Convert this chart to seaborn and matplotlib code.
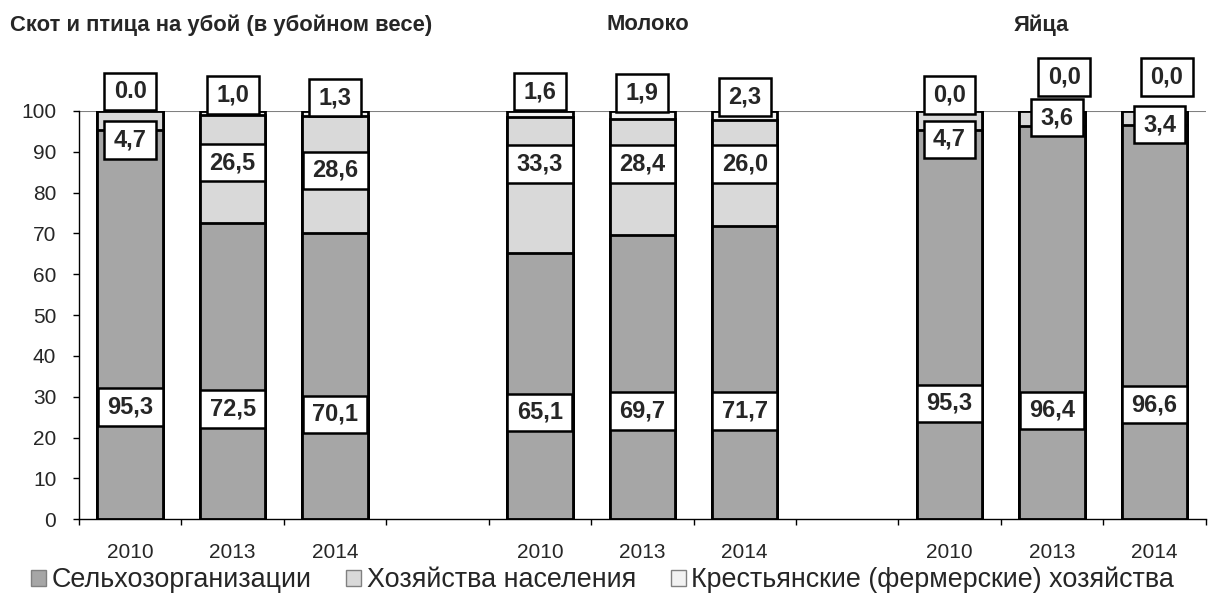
import matplotlib
matplotlib.use("Agg")
import matplotlib.pyplot as plt
from matplotlib.patches import Patch
from matplotlib.path import Path
import seaborn as sns
import pandas as pd
import numpy as np

# data
groups = ["Скот и птица на убой (в убойном весе)", "Молоко", "Яйца"]
years = ["2010", "2013", "2014"]
selkhoz = [95.3, 72.5, 70.1, 65.1, 69.7, 71.7, 95.3, 96.4, 96.6]
naselenie = [4.7, 26.5, 28.6, 33.3, 28.4, 26.0, 4.7, 3.6, 3.4]
fermery = [0.0, 1.0, 1.3, 1.6, 1.9, 2.3, 0.0, 0.0, 0.0]
fermery_text = ["0.0", "1,0", "1,3", "1,6", "1,9", "2,3", "0,0", "0,0", "0,0"]
series_names = ["Сельхозорганизации", "Хозяйства населения",
                "Крестьянские (фермерские) хозяйства"]

# label placement (layout only)
lab_y_low = [27.5, 27.0, 25.7, 26.2, 26.5, 26.5, 28.4, 26.7, 28.0]
lab_y_mid = [92.9, 87.3, 85.5, 87.0, 87.0, 87.0, 93.1, 98.3, 96.6]
lab_y_top = [104.7, 103.9, 103.2, 104.7, 104.4, 103.4, 103.9, 108.3, 108.3]
lab_dx_top = [0, 0, 0, 0, 0, 0, 0, 0.12, 0.12]
lab_dx_mid = [0, 0, 0, 0, 0, 0, 0, 0.05, 0.05]

colors = ["#a6a6a6", "#d9d9d9", "#f2f2f2"]


def label_box(x0, y0, width, height, mutation_size):
    # wider padding left/right than top/bottom, like the excel labels
    px = 0.4 * mutation_size
    py = 0.3 * mutation_size
    x0, y0 = x0 - px, y0 - py
    x1, y1 = x0 + width + 2 * px, y0 + height + 2 * py
    return Path([(x0, y0), (x1, y0), (x1, y1), (x0, y1), (x0, y0)], closed=True)


slots = []
for g in range(3):
    for y in years:
        slots.append(f"{g}_{y}")
    if g < 2:
        slots.append(f"gap{g}")
bar_slots = [s for s in slots if not s.startswith("gap")]

df = pd.DataFrame({"slot": bar_slots, "s1": selkhoz, "s2": naselenie, "s3": fermery})
df["c1"] = df["s1"]
df["c2"] = df["s1"] + df["s2"]
df["c3"] = df["s1"] + df["s2"] + df["s3"]

sns.set_style("white")
plt.rcParams["font.family"] = ["Liberation Sans", "DejaVu Sans"]

fig = plt.figure(figsize=(12.08, 6.03), dpi=100)
ax = fig.add_axes([0.0654, 0.139, 0.9326, 0.677])

ax.axhline(100, color="#808080", lw=1.5, zorder=0)
for col, c in zip(["c3", "c2", "c1"], colors[::-1]):
    sns.barplot(data=df, x="slot", y=col, order=slots, color=c, width=0.64,
                edgecolor="black", linewidth=2, saturation=1, ax=ax, zorder=2)

ax.set_ylim(0, 100)
ax.set_xlim(-0.5, len(slots) - 0.5)
ax.set_xlabel("")
ax.set_ylabel("")
ax.set_yticks(np.arange(0, 101, 10))
ax.tick_params(axis="y", labelsize=15, length=4.3, width=1, pad=12, direction="out",
               color="black", left=True)
ax.set_xticks(np.arange(-0.5, len(slots), 1))
ax.set_xticklabels([])
ax.tick_params(axis="x", which="major", length=4.3, width=1, direction="out",
               color="black", bottom=True)
xpos = [slots.index(s) for s in bar_slots]
ax.set_xticks(xpos, minor=True)
ax.set_xticklabels([s.split("_")[1] for s in bar_slots], minor=True)
ax.tick_params(axis="x", which="minor", length=0, labelsize=15, pad=17)
for side in ["top", "right"]:
    ax.spines[side].set_visible(False)
ax.spines["left"].set_color("black")
ax.spines["bottom"].set_color("black")
ax.spines["left"].set_linewidth(1)
ax.spines["bottom"].set_linewidth(1)

box = dict(boxstyle=label_box, fc="white", ec="black", lw=1.8)
for i, x in enumerate(xpos):
    ax.text(x, lab_y_low[i], f"{selkhoz[i]:.1f}".replace(".", ","), ha="center", va="center",
            fontsize=17, fontweight="bold", bbox=box, zorder=5, clip_on=False)
    ax.text(x + lab_dx_mid[i], lab_y_mid[i], f"{naselenie[i]:.1f}".replace(".", ","),
            ha="center", va="center", fontsize=17, fontweight="bold", bbox=box,
            zorder=5, clip_on=False)
    ax.text(x + lab_dx_top[i], lab_y_top[i], fermery_text[i], ha="center", va="center",
            fontsize=17, fontweight="bold", bbox=box, zorder=5, clip_on=False)

fig.text(10 / 1208, 1 - 25 / 603, groups[0], ha="left", va="center",
         fontsize=15.8, fontweight="bold")
fig.text(648 / 1208, 1 - 25 / 603, groups[1], ha="center", va="center",
         fontsize=15.8, fontweight="bold")
fig.text(1041 / 1208, 1 - 25 / 603, groups[2], ha="center", va="center",
         fontsize=15.8, fontweight="bold")

handles = [Patch(facecolor=c, edgecolor="#808080", lw=1) for c in colors]
fig.legend(handles, series_names, loc="center", bbox_to_anchor=(0.4988, 0.038), ncol=3,
           frameon=False, fontsize=19.4, handlelength=0.56, handleheight=0.56,
           handletextpad=0.19, columnspacing=1.3, borderaxespad=0)

fig.savefig("out.png", dpi=100)
